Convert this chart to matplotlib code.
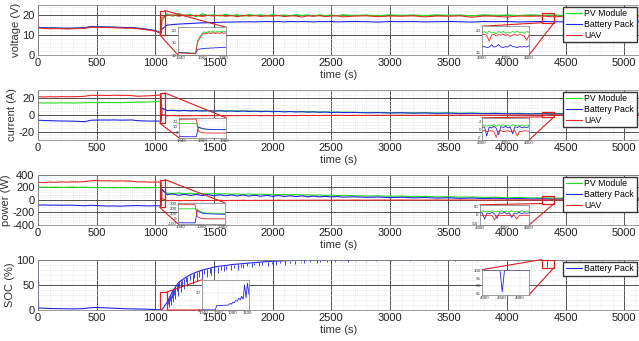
import matplotlib
matplotlib.use("Agg")
import matplotlib.pyplot as plt
from matplotlib.patches import Rectangle, ConnectionPatch
from matplotlib.ticker import AutoMinorLocator

plt.rcParams["font.family"] = ["Liberation Sans", "DejaVu Sans"]
plt.rcParams["axes.unicode_minus"] = False

GREEN = "#22dd22"
BLUE = "#2424e0"
RED = "#e82828"
BOX = "#d42020"

# ---- main time base (s) ----
t_main = ([0, 5] + list(range(50, 1051, 50)) + [1056]
          + list(range(1100, 2601, 50)) + list(range(2700, 5101, 100)) + [5150])

# ---- voltage (V) ----
volt_pv = [14.2, 13.7, 13.4, 13.3, 13.3, 13.2, 13.1, 13.2, 13.3, 13.4,
           14.0, 13.9, 13.8, 13.8, 13.7, 13.6, 13.5, 13.5,
           13.2, 12.9, 12.5, 12.0, 11.0,
           17.0,
           20.3, 19.2, 20.6, 19.5, 20.1, 19.0, 20.4, 19.6, 20.0, 19.3,
           20.2, 19.5, 19.9, 19.2, 20.1, 19.6, 19.9, 19.4, 20.0, 19.5,
           19.8, 19.4, 20.0, 19.6, 19.8, 19.3, 19.9, 19.5, 19.8, 19.4, 19.9,
           19.5, 19.8, 19.4, 19.9, 19.6, 19.8, 19.5, 19.9, 19.6, 19.8,
           19.4, 19.9, 19.6, 19.8, 19.5, 19.9, 19.6, 19.8, 19.5, 19.9,
           19.6, 19.8, 19.5, 19.9, 19.6, 19.7]
volt_bat = [13.8, 13.6, 13.5, 13.4, 13.4, 13.3, 13.3, 13.3, 13.4, 13.5,
            14.1, 14.0, 13.9, 13.9, 13.8, 13.7, 13.6, 13.6,
            13.3, 13.0, 12.6, 12.1, 11.0,
            12.8,
            14.8, 15.1, 15.3, 15.5, 15.6, 15.8, 15.9, 16.0, 16.1, 16.2,
            16.3, 16.3, 16.4, 16.4, 16.5, 16.4, 16.5, 16.6, 16.5, 16.6,
            16.4, 16.6, 16.5, 16.6, 16.5, 16.4, 16.6, 16.5, 16.6, 16.4, 16.5,
            16.6, 16.5, 16.3, 16.6, 16.5, 16.6, 16.4, 16.5, 16.6, 16.5,
            16.3, 16.6, 16.5, 16.6, 16.4, 16.5, 16.6, 16.5, 16.4, 16.6,
            16.5, 16.6, 16.4, 16.5, 16.6, 16.5]
volt_uav = [20.5, 13.4, 13.2, 13.0, 13.1, 13.0, 12.9, 13.0, 13.1, 13.2,
            13.8, 13.7, 13.6, 13.6, 13.5, 13.4, 13.3, 13.3,
            13.0, 12.7, 12.3, 11.8, 10.8,
            18.5,
            19.6, 19.9, 19.2, 19.8, 19.4, 19.7, 19.1, 19.6, 19.3, 19.7,
            19.2, 19.5, 19.0, 19.6, 19.3, 19.5, 19.1, 19.4, 19.2, 19.6,
            19.0, 19.4, 19.3, 18.8, 19.4, 19.2, 19.5, 19.0, 19.3, 19.4, 18.9,
            19.3, 19.4, 19.0, 19.3, 19.2, 19.4, 18.9, 19.3, 19.2, 19.4,
            18.7, 19.3, 19.2, 18.8, 19.3, 19.2, 19.3, 18.9, 19.3, 19.2,
            19.4, 19.1, 19.3, 19.2, 19.3, 19.2]

# ---- current (A) ----
cur_pv = [14.0, 14.2, 14.0, 14.1, 14.0, 14.2, 14.1, 14.0, 14.2, 14.3,
          14.5, 14.4, 14.5, 14.6, 14.5, 14.4, 14.6, 14.7,
          14.9, 15.1, 15.3, 15.6, 16.1,
          7.5,
          5.2, 5.0, 5.3, 4.9, 5.1, 4.8, 5.0, 4.7, 4.9, 4.6,
          4.8, 4.5, 4.7, 4.4, 4.5, 4.2, 4.4, 4.1, 4.2, 3.9,
          4.1, 3.8, 3.9, 3.6, 3.7, 3.4, 3.5, 3.2, 3.3, 3.0, 3.1,
          2.9, 2.7, 2.8, 2.5, 2.6, 2.3, 2.4, 2.1, 2.2, 1.9,
          2.0, 1.8, 1.9, 1.6, 1.7, 1.5, 1.6, 1.4, 1.5, 1.3,
          1.4, 1.2, 1.3, 1.1, 1.2, 1.2]
cur_bat = [-6.0, -6.5, -6.8, -7.0, -7.2, -7.4, -7.5, -7.6, -7.9, -8.2,
           -6.5, -6.3, -6.2, -6.3, -6.1, -6.4, -6.3, -6.2,
           -7.0, -7.3, -7.5, -7.4, -7.7,
           8.0,
           5.0, 5.4, 4.6, 5.2, 4.5, 5.0, 4.4, 4.9, 4.3, 4.8,
           4.2, 4.6, 4.0, 4.5, 3.9, 4.3, 3.7, 4.2, 3.6, 4.0,
           3.4, 3.9, 3.3, 3.7, 3.1, 3.5, 2.9, 3.3, 2.7, 3.1, 2.6,
           2.8, 2.3, 2.6, 2.1, 2.4, 1.9, 2.2, 1.7, 2.0, 1.5,
           1.8, 1.3, 1.6, 1.1, 1.4, 0.9, 1.3, 0.7, 1.1, 0.6,
           1.0, 0.5, 0.9, 0.4, 0.8, 0.7]
cur_uav = [21.0, 21.5, 21.2, 21.5, 21.3, 21.6, 21.4, 21.5, 21.7, 22.0,
           23.2, 23.0, 23.1, 22.9, 23.2, 23.0, 23.1, 22.8,
           22.0, 22.3, 22.6, 23.0, 23.6,
           0.5,
           -1.2, -1.0, -1.3, -1.1, -1.2, -0.9, -1.2, -1.0, -1.1, -0.9,
           -1.2, -1.0, -1.1, -0.9, -1.0, -0.8, -1.1, -0.9, -1.0, -0.8,
           -1.0, -0.9, -1.0, -0.7, -0.9, -0.8, -0.9, -0.7, -0.8, -0.6, -0.8,
           -0.7, -0.8, -0.6, -0.7, -0.5, -0.7, -0.6, -0.5, -0.6, -0.4,
           -0.5, -0.6, -0.4, -0.5, -0.3, -0.5, -0.4, -0.3, -0.4, -0.2,
           -0.3, -0.4, -0.2, -0.3, -0.2, -0.2]

# ---- power (W) ----
pow_pv = [200, 198, 200, 197, 199, 196, 198, 200, 197, 199,
          192, 194, 191, 193, 190, 192, 191, 193,
          189, 191, 190, 192, 195,
          150,
          105, 98, 108, 96, 102, 94, 100, 92, 98, 90,
          96, 88, 93, 86, 91, 84, 89, 82, 87, 80,
          85, 78, 82, 75, 79, 72, 76, 69, 73, 66, 70,
          64, 60, 62, 55, 58, 50, 53, 46, 48, 42,
          44, 37, 40, 33, 35, 29, 31, 25, 27, 21,
          23, 17, 19, 13, 15, 12]
pow_bat = [-80, -85, -82, -86, -84, -88, -85, -87, -90, -95,
           -88, -92, -96, -100, -98, -102, -97, -95,
           -92, -95, -97, -94, -96,
           170,
           80, 92, 70, 86, 68, 84, 66, 82, 64, 80,
           62, 78, 60, 76, 58, 72, 56, 70, 54, 68,
           52, 64, 50, 62, 48, 58, 46, 55, 44, 52, 42,
           48, 38, 44, 34, 40, 30, 36, 26, 32, 22,
           28, 18, 24, 15, 20, 12, 16, 9, 13, 6,
           10, 4, 8, 2, 6, 4]
pow_uav = [270, 275, 272, 280, 276, 283, 279, 285, 282, 288,
           300, 305, 298, 302, 296, 300, 297, 294,
           282, 285, 280, 283, 278,
           20,
           -14, -10, -15, -11, -13, -9, -14, -10, -12, -9,
           -13, -10, -11, -8, -12, -9, -11, -8, -10, -7,
           -10, -8, -9, -7, -9, -6, -8, -6, -8, -5, -7,
           -6, -7, -5, -6, -4, -6, -5, -4, -5, -3,
           -4, -5, -3, -4, -2, -4, -3, -2, -3, -1,
           -2, -3, -1, -2, -1, -1]

# ---- state of charge (%) ----
soc = [100, 4.0, 3.5, 3.0, 2.8, 2.6, 2.4, 2.2, 2.5, 3.0,
       4.5, 5.0, 4.5, 4.0, 3.5, 3.0, 2.5, 2.2,
       2.0, 1.8, 1.4, 0.8, 0.3,
       0.2,
       15, 38, 55, 63, 70, 75, 79, 82, 85, 87,
       88, 90, 91, 92, 93, 94, 95, 96, 96.5, 97,
       97.5, 98, 98, 98.5, 98.5, 99, 99, 99, 99.5, 99.5, 99.5,
       100, 100, 100, 100, 100, 100, 100, 100, 100, 100,
       100, 100, 100, 100, 100, 100, 100, 100, 100, 100,
       100, 100, 100, 100, 100, 100]
soc_spike_t = [1104, 1112, 1118, 1127, 1133, 1146, 1152, 1163, 1171, 1184,
               1196, 1203, 1219, 1226, 1241, 1262, 1274, 1293, 1318, 1327,
               1352, 1371, 1398, 1412, 1437, 1466, 1473, 1502, 1531, 1557,
               1589, 1603, 1644, 1671, 1702, 1733, 1748, 1781, 1823, 1846,
               1887, 1912, 1958, 1994, 2031, 2062, 2107, 2149, 2188, 2242,
               2267, 2318, 2376, 2405, 2461, 2498, 2533, 2587, 2641, 2710,
               2795, 2883, 3010, 3172, 3388, 3560, 3745, 3912, 4090, 4338,
               4471, 4622, 4806, 4955, 5070]
soc_spike_lo = [3, 12, 6, 18, 9, 24, 15, 30, 22, 38,
                28, 44, 36, 50, 42, 55, 48, 60, 52, 64,
                58, 66, 62, 72, 65, 74, 70, 76, 73, 80,
                77, 82, 79, 84, 80, 86, 83, 88, 85, 89,
                87, 90, 88, 92, 89, 93, 90, 94, 92, 95,
                93, 95, 94, 96, 95, 96, 95, 97, 96, 97,
                97, 98, 97, 98, 98, 97, 98, 98, 97, 86,
                98, 97, 98, 98, 97]
soc_spike_hi = [17, 21, 24, 28, 30, 36, 39, 42, 45, 49,
                54, 55, 58, 59, 62, 65, 66, 69, 72, 73,
                75, 77, 79, 80, 81, 83, 83, 85, 86, 87,
                88, 88, 90, 90, 91, 92, 92, 93, 93, 94,
                95, 95, 96, 96, 97, 97, 98, 98, 98, 98,
                99, 99, 99, 99, 99, 99, 100, 100, 100, 100,
                100, 100, 100, 100, 100, 100, 100, 100, 100, 100,
                100, 100, 100, 100, 100]

# ---- zoom 1: switch-over (1038-1082 s) ----
t_z1 = [1038, 1040, 1042, 1044, 1046, 1048, 1050, 1052, 1054,
        1056, 1058, 1060, 1062, 1064, 1066, 1068, 1070, 1072, 1074, 1076, 1078, 1080, 1082]
z1_volt_pv = [11.2, 11.1, 11.0, 11.0, 10.9, 10.9, 10.8, 10.8, 10.7,
              16.0, 17.6, 18.9, 19.6, 19.2, 19.8, 19.4, 19.9, 19.3, 19.8, 19.5, 19.9, 19.6, 19.8]
z1_volt_bat = [11.1, 11.0, 10.9, 10.9, 10.8, 10.8, 10.7, 10.7, 10.6,
               12.3, 12.5, 12.6, 12.7, 12.8, 12.8, 12.9, 12.9, 13.0, 13.0, 13.1, 13.1, 13.2, 13.2]
z1_volt_uav = [11.0, 10.9, 10.8, 10.8, 10.7, 10.7, 10.6, 10.6, 10.5,
               15.5, 17.0, 18.4, 19.0, 18.8, 19.2, 18.9, 19.3, 18.8, 19.2, 19.0, 19.3, 19.0, 19.2]
z1_cur_pv = [15.8, 15.9, 15.9, 16.0, 16.0, 16.0, 16.1, 16.1, 16.1,
             9.0, 7.5, 6.5, 6.0, 5.7, 5.5, 5.4, 5.3, 5.3, 5.2, 5.2, 5.2, 5.1, 5.1]
z1_cur_bat = [-7.5, -7.6, -7.6, -7.7, -7.6, -7.7, -7.7, -7.8, -7.7,
              9.5, 8.0, 6.8, 6.0, 5.6, 5.3, 5.2, 5.1, 5.0, 5.0, 4.9, 4.9, 4.8, 4.8]
z1_cur_uav = [23.4, 23.5, 23.5, 23.6, 23.5, 23.6, 23.6, 23.7, 23.6,
              2.0, 0.5, -0.5, -1.0, -1.1, -1.2, -1.1, -1.2, -1.2, -1.1, -1.2, -1.2, -1.1, -1.2]
z1_pow_pv = [195, 196, 195, 196, 195, 196, 196, 195, 196,
             185, 150, 125, 115, 110, 107, 105, 104, 103, 102, 102, 101, 101, 100]
z1_pow_bat = [-95, -96, -95, -96, -96, -95, -96, -97, -96,
              160, 130, 110, 100, 95, 92, 90, 88, 86, 85, 84, 83, 82, 82]
z1_pow_uav = [280, 281, 279, 280, 282, 280, 279, 281, 280,
              40, 10, -5, -10, -12, -13, -12, -13, -14, -13, -12, -13, -14, -13]
t_z1_soc = [1038, 1040, 1042, 1044, 1046, 1048, 1050, 1052, 1054, 1056, 1058,
            1060, 1062, 1064, 1066, 1068, 1070, 1072, 1074,
            1076, 1078, 1080, 1082, 1084, 1086, 1088, 1090, 1092, 1094, 1096, 1098, 1100, 1102]
z1_soc = [0.3, 0.3, 0.2, 0.2, 0.2, 0.1, 0.1, 0.1, 0.1, 0.1, 5.0,
          5.2, 5.3, 5.3, 5.4, 5.5, 5.5, 5.6, 5.8,
          7.5, 6.8, 9.0, 8.5, 11.0, 10.2, 13.5, 11.8, 16.0, 12.5, 29.0, 14.0, 31.0, 18.0]

# ---- zoom 2: steady flight (4300-4400 s) ----
t_z2 = [4300, 4305, 4310, 4315, 4320, 4325, 4330, 4335, 4340, 4345, 4350,
        4355, 4360, 4365, 4370, 4375, 4380, 4385, 4390, 4395, 4400]
z2_volt_pv = [19.6, 19.8, 19.4, 19.9, 19.5, 19.7, 19.3, 19.8, 19.6, 19.9, 19.4,
              19.7, 19.5, 19.8, 19.6, 19.9, 19.5, 19.7, 19.4, 19.8, 19.6]
z2_volt_bat = [16.3, 16.4, 16.2, 16.3, 16.8, 16.3, 16.4, 16.9, 16.3, 16.2, 16.4,
               16.3, 16.8, 16.4, 16.3, 16.2, 16.4, 16.3, 16.4, 16.3, 16.6]
z2_volt_uav = [19.1, 19.2, 18.9, 17.6, 19.0, 19.2, 18.8, 19.1, 19.0, 19.2, 18.9,
               19.1, 18.7, 19.0, 19.2, 18.9, 19.1, 19.0, 18.8, 17.8, 19.0]
z2_cur_pv = [1.1, 1.3, 0.9, 1.2, 1.0, 1.3, 0.9, 1.2, 1.1, 1.3, 1.0,
             1.2, 0.9, 1.3, 1.1, 1.2, 1.0, 1.3, 0.9, 1.2, 1.1]
z2_cur_bat = [0.6, 0.8, -1.5, 0.7, 0.5, 0.9, 0.4, -1.2, 0.8, 0.6, 0.9,
              0.5, 0.7, -1.0, 0.8, 0.6, 0.9, 0.5, 0.7, 0.6, 0.8]
z2_cur_uav = [-0.3, -0.2, -0.4, -0.3, -0.2, -0.4, -1.8, -0.3, -0.2, -0.4, -0.3,
              -0.2, -0.4, -0.3, -0.2, -1.5, -0.3, -0.4, -0.2, -0.3, -0.3]
z2_pow_pv = [20, 24, 18, 23, 19, 25, 18, 22, 20, 24, 19,
             23, 18, 24, 20, 22, 19, 25, 18, 23, 21]
z2_pow_bat = [10, 14, -25, 12, 8, 15, 6, -20, 13, 9, 16,
              7, 12, -15, 11, 9, 15, 8, 12, 10, 13]
z2_pow_uav = [-3, -2, -4, -3, -2, -4, -30, -3, -2, -4, -3,
              -2, -4, -3, -2, -25, -3, -4, -2, -3, -3]
z2_soc = [100, 100, 100, 100, 100, 100, 100, 100, 86, 100, 100,
          100, 100, 100, 100, 100, 100, 100, 100, 100, 100]


def style_main(ax, ylim, yticks, ylabel):
    ax.set_xlim(0, 5125)
    ax.set_ylim(*ylim)
    ax.set_xticks(range(0, 5001, 500))
    ax.set_yticks(yticks)
    ax.xaxis.set_minor_locator(AutoMinorLocator(5))
    ax.yaxis.set_minor_locator(AutoMinorLocator(5))
    ax.grid(which="major", color="#505050", lw=0.7)
    ax.grid(which="minor", color="#d8d8d8", lw=0.5, ls=":")
    ax.set_axisbelow(True)
    ax.tick_params(which="both", length=0, labelsize=8, pad=2.5, colors="#222222")
    ax.set_ylabel(ylabel, fontsize=8, labelpad=1, color="#333333")
    ax.set_xlabel("time (s)", fontsize=8, labelpad=1, color="#333333")
    for s in ax.spines.values():
        s.set_color("#8a8a8a")
        s.set_linewidth(0.6)


def draw_zoom(ax, bounds, xlim, ylim, xticks, yticks, lines, rect_y, links):
    ins = ax.inset_axes(bounds)
    for t, y, c in lines:
        ins.plot(t, y, color=c, lw=0.6)
    ins.set_xlim(*xlim)
    ins.set_ylim(*ylim)
    ins.set_xticks(xticks)
    ins.set_yticks(yticks)
    ins.tick_params(length=0, labelsize=3.2, pad=1, colors="#333333")
    ins.grid(color="#e0e0e0", lw=0.3)
    for s in ins.spines.values():
        s.set_color("#7a7a7a")
        s.set_linewidth(0.5)
    ax.add_patch(Rectangle((xlim[0], rect_y[0]), xlim[1] - xlim[0], rect_y[1] - rect_y[0],
                           fill=False, ec=BOX, lw=0.9, zorder=4))
    for xy_main, xy_ins in links:
        con = ConnectionPatch(xyA=xy_main, coordsA=ax.transData, xyB=xy_ins,
                              coordsB=ins.transAxes, color=BOX, lw=0.8, zorder=4)
        ax.add_artist(con)
    return ins


fig = plt.figure(figsize=(6.39, 3.41), dpi=100)
left, width, height = 0.0595, 0.9405, 0.148
ax1 = fig.add_axes([left, 0.8387, width, height])
ax2 = fig.add_axes([left, 0.5894, width, height])
ax3 = fig.add_axes([left, 0.3402, width, height])
ax4 = fig.add_axes([left, 0.0909, width, height])

legend_kw = dict(loc="upper right", fontsize=6.3, frameon=True, fancybox=False,
                 edgecolor="#333333", framealpha=1, borderpad=0.3, labelspacing=0.2,
                 handlelength=1.8, handletextpad=0.3, borderaxespad=0.25)

# voltage
ax1.plot(t_main, volt_pv, color=GREEN, lw=0.9, label="PV Module")
ax1.plot(t_main, volt_bat, color=BLUE, lw=0.8, label="Battery Pack")
ax1.plot(t_main, volt_uav, color=RED, lw=0.8, label="UAV")
style_main(ax1, (0, 25), [0, 10, 20], "voltage (V)")
ax1.legend(**legend_kw)
draw_zoom(ax1, [0.233, 0.0, 0.080, 0.55], (1038, 1082), (10, 21.5), [1040, 1060, 1080], [10, 15, 20],
          [(t_z1, z1_volt_pv, GREEN), (t_z1, z1_volt_bat, BLUE), (t_z1, z1_volt_uav, RED)],
          (10, 22), [((1082, 22), (1, 1)), ((1038, 10), (0, 0))])
draw_zoom(ax1, [0.739, 0.0, 0.078, 0.57], (4300, 4400), (14.5, 21), [4300, 4350, 4400], [15, 20],
          [(t_z2, z2_volt_pv, GREEN), (t_z2, z2_volt_bat, BLUE), (t_z2, z2_volt_uav, RED)],
          (16, 21), [((4300, 16), (0, 1)), ((4400, 16), (1, 0))])

# current
ax2.plot(t_main, cur_pv, color=GREEN, lw=0.8, label="PV Module")
ax2.plot(t_main, cur_bat, color=BLUE, lw=0.8, label="Battery Pack")
ax2.plot(t_main, cur_uav, color=RED, lw=0.8, label="UAV")
style_main(ax2, (-30, 30), [-20, 0, 20], "current (A)")
ax2.legend(**legend_kw)
draw_zoom(ax2, [0.235, 0.04, 0.078, 0.40], (1038, 1082), (-10, 26), [1040, 1060, 1080], [0, 10, 20],
          [(t_z1, z1_cur_pv, GREEN), (t_z1, z1_cur_bat, BLUE), (t_z1, z1_cur_uav, RED)],
          (-10, 26), [((1082, 26), (1, 1)), ((1038, -10), (0, 0))])
draw_zoom(ax2, [0.739, 0.0, 0.078, 0.44], (4300, 4400), (-2.5, 3), [4300, 4350, 4400], [-2, 0, 2],
          [(t_z2, z2_cur_pv, GREEN), (t_z2, z2_cur_bat, BLUE), (t_z2, z2_cur_uav, RED)],
          (-2.5, 3), [((4300, -2.5), (0, 1)), ((4400, -2.5), (1, 0))])

# power
ax3.plot(t_main, pow_pv, color=GREEN, lw=0.8, label="PV Module")
ax3.plot(t_main, pow_bat, color=BLUE, lw=0.8, label="Battery Pack")
ax3.plot(t_main, pow_uav, color=RED, lw=0.8, label="UAV")
style_main(ax3, (-400, 400), [-400, -200, 0, 200, 400], "power (W)")
ax3.legend(**legend_kw)
draw_zoom(ax3, [0.233, 0.02, 0.078, 0.42], (1038, 1082), (-120, 320), [1040, 1060, 1080],
          [-100, 0, 100, 200, 300],
          [(t_z1, z1_pow_pv, GREEN), (t_z1, z1_pow_bat, BLUE), (t_z1, z1_pow_uav, RED)],
          (-120, 320), [((1082, 320), (1, 1)), ((1038, -120), (0, 0))])
draw_zoom(ax3, [0.735, 0.0, 0.082, 0.40], (4300, 4400), (-60, 60), [4300, 4350, 4400], [-50, 0, 50],
          [(t_z2, z2_pow_pv, GREEN), (t_z2, z2_pow_bat, BLUE), (t_z2, z2_pow_uav, RED)],
          (-60, 60), [((4300, -60), (0, 1)), ((4400, -60), (1, 0))])

# state of charge
ax4.plot(t_main, soc, color=BLUE, lw=0.8, label="Battery Pack")
ax4.vlines(soc_spike_t, soc_spike_lo, soc_spike_hi, color=BLUE, lw=0.6)
style_main(ax4, (0, 100), [0, 50, 100], "SOC (%)")
ax4.legend(**legend_kw)
draw_zoom(ax4, [0.273, 0.0, 0.078, 0.60], (1038, 1102), (0, 35), [1040, 1060, 1080, 1100], [0, 20],
          [(t_z1_soc, z1_soc, BLUE)],
          (0, 36), [((1102, 36), (0, 1)), ((1102, 0), (0, 0))])
draw_zoom(ax4, [0.739, 0.30, 0.078, 0.50], (4295, 4400), (84, 100.5), [4300, 4340, 4380],
          [85, 90, 95, 100],
          [(t_z2, z2_soc, BLUE)],
          (84, 100), [((4295, 100), (0, 1)), ((4400, 84), (1, 0))])

fig.savefig("out.png", dpi=100, facecolor="white")
